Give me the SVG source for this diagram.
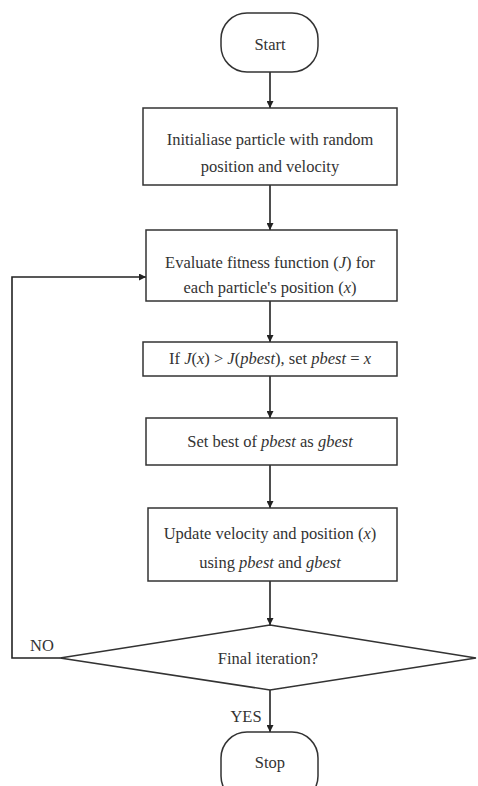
<svg xmlns="http://www.w3.org/2000/svg" width="478" height="786" viewBox="0 0 478 786">
<defs>
<marker id="ah" viewBox="0 0 10 10" refX="10" refY="5" markerWidth="7" markerHeight="7" orient="auto" markerUnits="userSpaceOnUse">
<path d="M0,0 L10,5 L0,10 z" fill="#222"/>
</marker>
<style>
.s{fill:#fff;stroke:#333;stroke-width:1.5}
.t{font-family:"Liberation Serif","Times New Roman",serif;font-size:16.5px;fill:#333;text-anchor:middle}
.c{fill:none;stroke:#222;stroke-width:1.6;marker-end:url(#ah)}
.l{fill:none;stroke:#222;stroke-width:1.6}
</style>
</defs>
<rect width="478" height="786" fill="#fff"/>
<g id="connectors">
<line class="c" x1="270" y1="72" x2="270" y2="108"/>
<line class="c" x1="270" y1="185" x2="270" y2="230"/>
<line class="c" x1="270" y1="301" x2="270" y2="342"/>
<line class="c" x1="270" y1="376" x2="270" y2="418"/>
<line class="c" x1="270" y1="465" x2="270" y2="508"/>
<line class="c" x1="270" y1="581" x2="270" y2="625"/>
<polyline class="c" points="60,658 12,658 12,277 146,277"/>
<line class="c" x1="270" y1="690" x2="270" y2="732"/>
<text class="t" x="42" y="651">NO</text>
<text class="t" x="246" y="722">YES</text>
</g>
<g id="start">
<rect class="s" x="221" y="13" width="97" height="59" rx="26" ry="26"/>
<text class="t" x="270" y="50">Start</text>
</g>
<g id="init">
<rect class="s" x="143" y="108" width="254" height="77"/>
<text class="t" x="270" y="145">Initialiase particle with random</text>
<text class="t" x="270" y="172">position and velocity</text>
</g>
<g id="evaluate">
<rect class="s" x="146" y="230" width="251" height="71"/>
<text class="t" x="270" y="268">Evaluate fitness function (<tspan font-style="italic">J</tspan>) for</text>
<text class="t" x="270" y="293">each particle's position (<tspan font-style="italic">x</tspan>)</text>
</g>
<g id="pbest">
<rect class="s" x="143" y="342" width="254" height="34"/>
<text class="t" x="270" y="364">If <tspan font-style="italic">J</tspan>(<tspan font-style="italic">x</tspan>) &gt; <tspan font-style="italic">J</tspan>(<tspan font-style="italic">pbest</tspan>), set <tspan font-style="italic">pbest</tspan> = <tspan font-style="italic">x</tspan></text>
</g>
<g id="gbest">
<rect class="s" x="146" y="418" width="251" height="47"/>
<text class="t" x="270" y="447">Set best of <tspan font-style="italic">pbest</tspan> as <tspan font-style="italic">gbest</tspan></text>
</g>
<g id="update">
<rect class="s" x="148" y="508" width="249" height="73"/>
<text class="t" x="270" y="539">Update velocity and position (<tspan font-style="italic">x</tspan>)</text>
<text class="t" x="270" y="568">using <tspan font-style="italic">pbest</tspan> and <tspan font-style="italic">gbest</tspan></text>
</g>
<g id="decision">
<polygon class="s" points="270,625 476,658 270,690 60,658"/>
<text class="t" x="268" y="664">Final iteration?</text>
</g>
<g id="stop">
<rect class="s" x="221" y="732" width="97" height="70" rx="26" ry="26"/>
<text class="t" x="270" y="768">Stop</text>
</g>
</svg>
